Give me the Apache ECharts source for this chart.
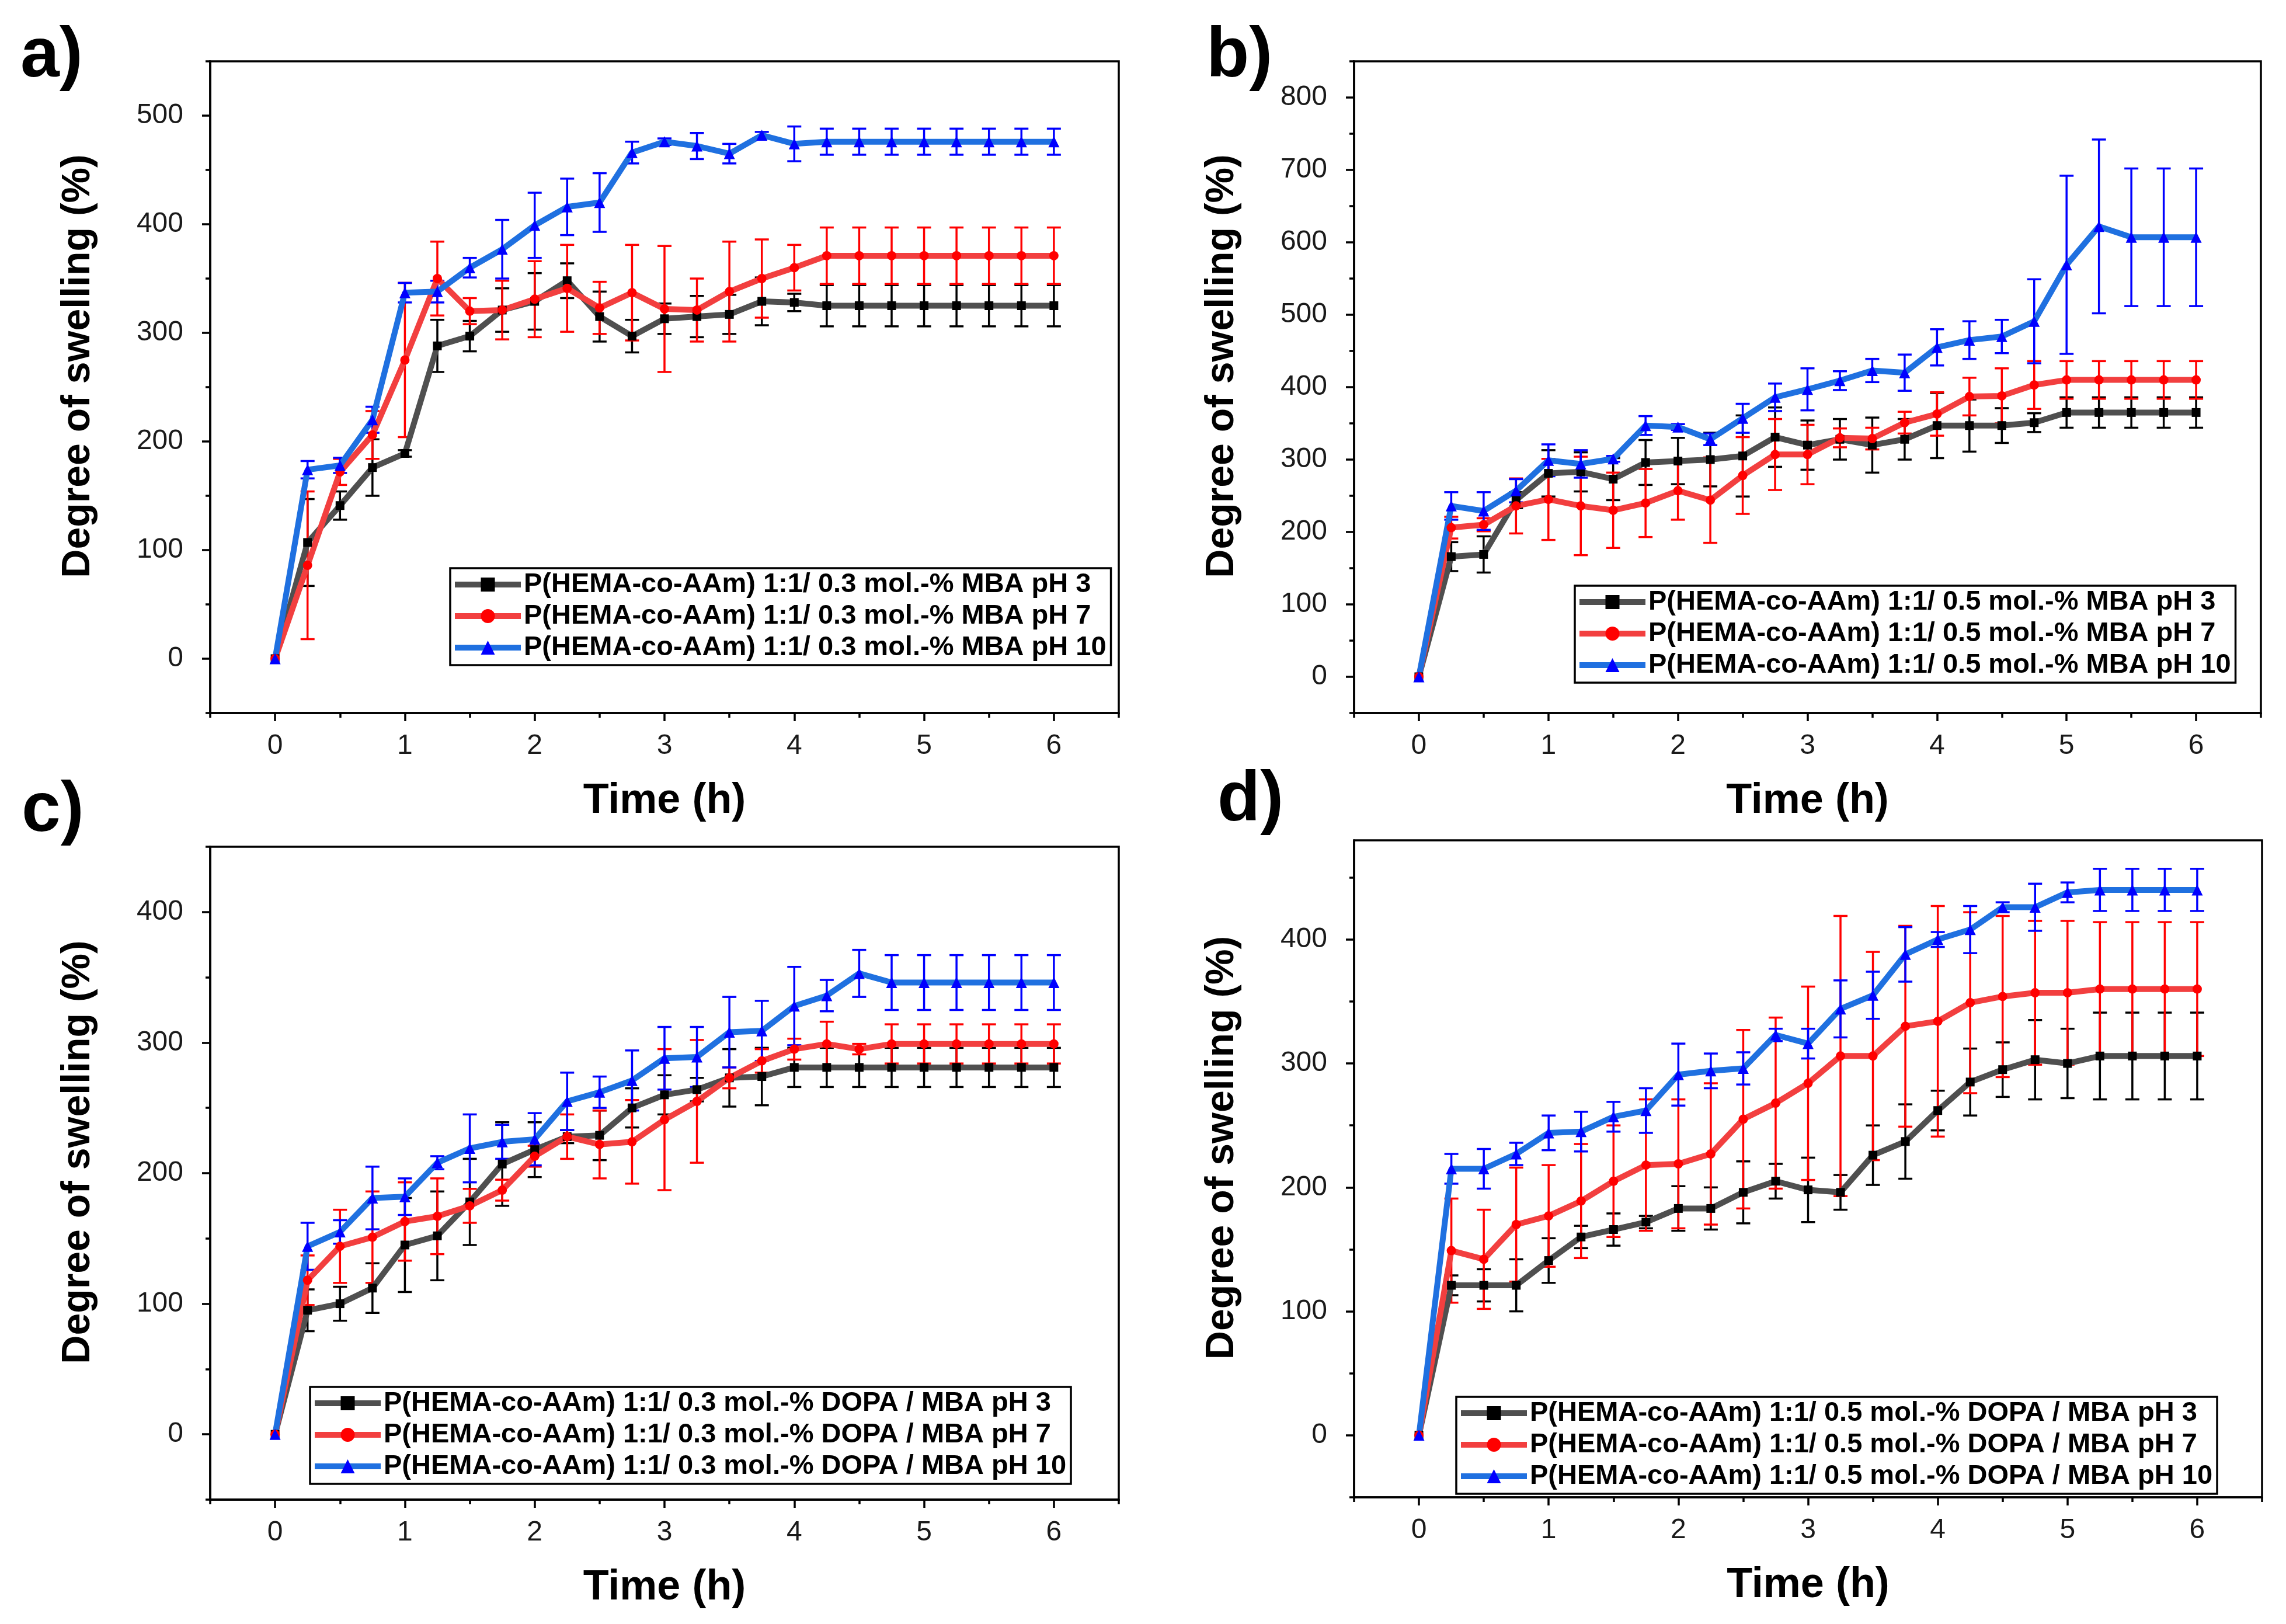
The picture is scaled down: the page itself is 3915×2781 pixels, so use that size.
<!DOCTYPE html>
<html><head><meta charset="utf-8">
<script src="https://cdn.jsdelivr.net/npm/echarts@6/dist/echarts.min.js"></script>
<style>html,body{margin:0;padding:0;background:#fff}#c{width:3915px;height:2781px}</style>
</head><body><div id="c"></div><script>
// ---------- data ----------
const time = [0,0.25,0.5,0.75,1,1.25,1.5,1.75,2,2.25,2.5,2.75,3,3.25,3.5,3.75,4,4.25,4.5,4.75,5,5.25,5.5,5.75,6];
const xTickLabels = [0,1,2,3,4,5,6];
const xMinorTicks = [-0.5,0.5,1.5,2.5,3.5,4.5,5.5,6.5];

// panel a
const a_pH3     = [0,107,141,176,189,288,297,321,329,348,315,297,313,315,317,329,328,325,325,325,325,325,325,325,325];
const a_pH3_err = [0,40,13,26,3,24,14,20,26,16,23,15,14,19,18,22,8,19,19,19,19,19,19,19,19];
const a_pH7     = [0,86,172,206,275,350,320,321,331,341,323,337,322,321,338,350,360,371,371,371,371,371,371,371,371];
const a_pH7_err = [0,68,12,22,71,34,12,27,35,40,24,44,58,29,46,36,21,26,26,26,26,26,26,26,26];
const a_pH10     = [0,174,178,220,337,338,360,377,399,416,420,466,476,472,465,482,474,476,476,476,476,476,476,476,476];
const a_pH10_err = [0,8,7,12,9,10,9,27,30,26,27,10,3,12,9,3,16,12,12,12,12,12,12,12,12];
const a_yLabels = [0,100,200,300,400,500];
const a_yMinor  = [-50,50,150,250,350,450,550];

// panel b
const b_pH3     = [0,166,169,244,281,283,273,296,298,300,305,331,320,328,320,328,347,347,347,351,365,365,365,365,365];
const b_pH3_err = [0,20,25,11,32,27,29,31,32,37,56,41,34,28,38,28,45,36,24,13,21,21,21,21,21];
const b_pH7     = [0,206,210,236,245,236,230,240,257,244,278,307,307,330,329,351,363,387,388,403,410,410,410,410,410];
const b_pH7_err = [0,15,9,38,56,68,52,47,40,59,53,49,41,13,15,15,30,26,38,33,26,26,26,26,26];
const b_pH10     = [0,236,229,257,299,294,301,347,345,328,357,386,397,409,423,420,455,465,470,491,569,622,607,607,607];
const b_pH10_err = [0,19,26,16,22,19,4,13,4,8,20,19,29,13,16,25,25,26,23,58,123,120,95,95,95];
const b_yLabels = [0,100,200,300,400,500,600,700,800];
const b_yMinor  = [-50,50,150,250,350,450,550,650,750,850];

// panel c
const c_pH3     = [0,95,100,112,145,152,178,207,218,228,229,250,260,264,273,274,281,281,281,281,281,281,281,281,281];
const c_pH3_err = [0,16,13,19,36,34,33,32,21,5,19,15,15,9,22,22,15,15,15,15,15,15,15,15,15];
const c_pH7     = [0,118,144,151,163,167,175,187,213,228,222,224,241,255,273,286,295,299,295,299,299,299,299,299,299];
const c_pH7_err = [0,19,28,35,30,29,13,8,8,17,26,32,54,47,8,9,8,17,4,15,15,15,15,15,15];
const c_pH10     = [0,144,155,181,182,208,219,224,226,255,262,271,288,289,308,309,328,336,353,346,346,346,346,346,346];
const c_pH10_err = [0,18,9,24,14,5,26,13,20,22,12,23,24,23,27,23,30,12,18,21,21,21,21,21,21];
const c_yLabels = [0,100,200,300,400];
const c_yMinor  = [-50,50,150,250,350,450];

// panel d
const d_pH3     = [0,121,121,121,141,160,166,172,183,183,196,205,198,196,226,237,262,285,295,303,300,306,306,306,306];
const d_pH3_err = [0,8,13,21,18,9,13,5,18,17,25,14,26,14,24,30,16,27,22,32,28,35,35,35,35];
const d_pH7     = [0,149,142,170,177,189,205,218,219,227,255,268,284,306,306,330,334,349,354,357,357,360,360,360,360];
const d_pH7_err = [0,42,40,46,41,46,45,53,52,57,72,69,78,113,84,81,93,73,65,58,58,54,54,54,54];
const d_pH10     = [0,215,215,227,244,245,257,262,291,294,296,323,316,344,355,388,400,408,426,426,438,440,440,440,440];
const d_pH10_err = [0,12,16,9,14,16,12,18,25,14,13,5,12,23,19,22,6,19,4,19,8,17,17,17,17];
const d_yLabels = [0,100,200,300,400];
const d_yMinor  = [-50,50,150,250,350,450];

const a_names = ['P(HEMA-co-AAm) 1:1/ 0.3 mol.-% MBA pH 3','P(HEMA-co-AAm) 1:1/ 0.3 mol.-% MBA pH 7','P(HEMA-co-AAm) 1:1/ 0.3 mol.-% MBA pH 10'];
const b_names = ['P(HEMA-co-AAm) 1:1/ 0.5 mol.-% MBA pH 3','P(HEMA-co-AAm) 1:1/ 0.5 mol.-% MBA pH 7','P(HEMA-co-AAm) 1:1/ 0.5 mol.-% MBA pH 10'];
const c_names = ['P(HEMA-co-AAm) 1:1/ 0.3 mol.-% DOPA / MBA pH 3','P(HEMA-co-AAm) 1:1/ 0.3 mol.-% DOPA / MBA pH 7','P(HEMA-co-AAm) 1:1/ 0.3 mol.-% DOPA / MBA pH 10'];
const d_names = ['P(HEMA-co-AAm) 1:1/ 0.5 mol.-% DOPA / MBA pH 3','P(HEMA-co-AAm) 1:1/ 0.5 mol.-% DOPA / MBA pH 7','P(HEMA-co-AAm) 1:1/ 0.5 mol.-% DOPA / MBA pH 10'];
const tags = ['a)','b)','c)','d)'];
const xTitle = 'Time (h)';
const yTitle = 'Degree of swelling (%)';

// ---------- layout / style ----------
const FONT = '"Liberation Sans", Arial, Helvetica, sans-serif';
const panels = [
  {vals:[a_pH3,a_pH7,a_pH10], errs:[a_pH3_err,a_pH7_err,a_pH10_err], names:a_names, yMax:550, yLabels:a_yLabels, yMinor:a_yMinor,
   grid:{left:360, top:105, width:1556, height:1116}, legend:{left:771, top:973}, tag:{x:35, y:38}},
  {vals:[b_pH3,b_pH7,b_pH10], errs:[b_pH3_err,b_pH7_err,b_pH10_err], names:b_names, yMax:850, yLabels:b_yLabels, yMinor:b_yMinor,
   grid:{left:2319, top:105, width:1553, height:1116}, legend:{left:2697, top:1003}, tag:{x:2066, y:38}},
  {vals:[c_pH3,c_pH7,c_pH10], errs:[c_pH3_err,c_pH7_err,c_pH10_err], names:c_names, yMax:450, yLabels:c_yLabels, yMinor:c_yMinor,
   grid:{left:360, top:1450, width:1556, height:1118}, legend:{left:531, top:2375}, tag:{x:37, y:1330}},
  {vals:[d_pH3,d_pH7,d_pH10], errs:[d_pH3_err,d_pH7_err,d_pH10_err], names:d_names, yMax:480, yLabels:d_yLabels, yMinor:d_yMinor,
   grid:{left:2319, top:1439, width:1555, height:1125}, legend:{left:2494, top:2392}, tag:{x:2085, y:1312}}
];
const lineColors   = ['#4f4f4f','#f23f3f','#1f70e0'];
const markerColors = ['#000000','#ff0000','#0000ff'];
const symbols      = ['rect','circle','triangle'];
const symbolSizes  = [15,16,19];

const axisLineStyle = {color:'#000', width:3.5};
const grids = [], xAxes = [], yAxes = [], series = [], legends = [], graphics = [];

panels.forEach((p, i) => {
  grids.push(Object.assign({show:true, borderColor:'#000', borderWidth:3.5, backgroundColor:'transparent', containLabel:false, outerBoundsMode:'none'}, p.grid));
  xAxes.push({gridIndex:i, type:'value', min:-0.5, max:6.5, position:'bottom',
    name:xTitle, nameLocation:'middle', nameGap:115,
    nameTextStyle:{fontFamily:FONT, fontWeight:'bold', fontSize:72, color:'#000'},
    axisLine:{show:true, onZero:false, lineStyle:axisLineStyle},
    axisTick:{show:true, inside:false, length:14, customValues:xTickLabels, lineStyle:axisLineStyle},
    axisLabel:{show:true, customValues:xTickLabels, margin:33, fontFamily:FONT, fontSize:48, color:'#1a1a1a'},
    splitLine:{show:false}});
  xAxes.push({gridIndex:i, type:'value', min:-0.5, max:6.5, position:'bottom',
    axisLine:{show:false, onZero:false}, axisLabel:{show:false}, splitLine:{show:false},
    axisTick:{show:true, inside:false, length:8, customValues:xMinorTicks, lineStyle:axisLineStyle}});
  yAxes.push({gridIndex:i, type:'value', min:-50, max:p.yMax, position:'left',
    name:yTitle, nameLocation:'middle', nameGap:192, nameRotate:90,
    nameTextStyle:{fontFamily:FONT, fontWeight:'bold', fontSize:68, color:'#000', padding:[0,0,0,72]},
    axisLine:{show:true, onZero:false, lineStyle:axisLineStyle},
    axisTick:{show:true, inside:false, length:14, customValues:p.yLabels, lineStyle:axisLineStyle},
    axisLabel:{show:true, customValues:p.yLabels, margin:46, fontFamily:FONT, fontSize:48, color:'#1a1a1a'},
    splitLine:{show:false}});
  yAxes.push({gridIndex:i, type:'value', min:-50, max:p.yMax, position:'left',
    axisLine:{show:false, onZero:false}, axisLabel:{show:false}, splitLine:{show:false},
    axisTick:{show:true, inside:false, length:8, customValues:p.yMinor, lineStyle:axisLineStyle}});

  for (let s = 0; s < 3; s++) {
    const v = p.vals[s], e = p.errs[s];
    series.push({type:'line', name:p.names[s], xAxisIndex:2*i, yAxisIndex:2*i,
      data: time.map((t,k) => [t, v[k]]),
      symbol:symbols[s], symbolSize:symbolSizes[s], showAllSymbol:true,
      lineStyle:{color:lineColors[s], width:10},
      itemStyle:{color:markerColors[s]},
      z:2, animation:false, silent:true});
    const ec = markerColors[s];
    series.push({type:'custom', xAxisIndex:2*i, yAxisIndex:2*i, z:2, animation:false, silent:true,
      data: time.map((t,k) => [t, v[k]-e[k], v[k]+e[k]]),
      encode:{x:0, y:[1,2]},
      renderItem:(params, api) => {
        const x = api.value(0), lo = api.value(1), hi = api.value(2);
        if (hi === lo) return null;
        const p1 = api.coord([x, hi]), p2 = api.coord([x, lo]);
        const cw = 12;
        const st = {stroke:ec, lineWidth:3.5};
        return {type:'group', children:[
          {type:'line', shape:{x1:p1[0], y1:p1[1], x2:p2[0], y2:p2[1]}, style:st},
          {type:'line', shape:{x1:p1[0]-cw, y1:p1[1], x2:p1[0]+cw, y2:p1[1]}, style:st},
          {type:'line', shape:{x1:p2[0]-cw, y1:p2[1], x2:p2[0]+cw, y2:p2[1]}, style:st}
        ]};
      }});
  }
  legends.push({left:p.legend.left, top:p.legend.top, orient:'vertical', data:p.names,
    itemWidth:113, itemHeight:30, itemGap:4, padding:[3,8,5,3],
    borderColor:'#000', borderWidth:3.5, borderRadius:0, backgroundColor:'#fff',
    selectedMode:false,
    lineStyle:{width:10},
    textStyle:{fontFamily:FONT, fontWeight:'bold', fontSize:47, color:'#000', lineHeight:50}});
  graphics.push({type:'text', left:p.tag.x, top:p.tag.y, z:10,
    style:{text:tags[i], font:'bold 120px ' + FONT, fill:'#000'}});
});

const chart = echarts.init(document.getElementById('c'), null, {renderer:'canvas'});
chart.setOption({animation:false, backgroundColor:'#fff', grid:grids, xAxis:xAxes, yAxis:yAxes, series:series, legend:legends, graphic:graphics});
</script></body></html>
